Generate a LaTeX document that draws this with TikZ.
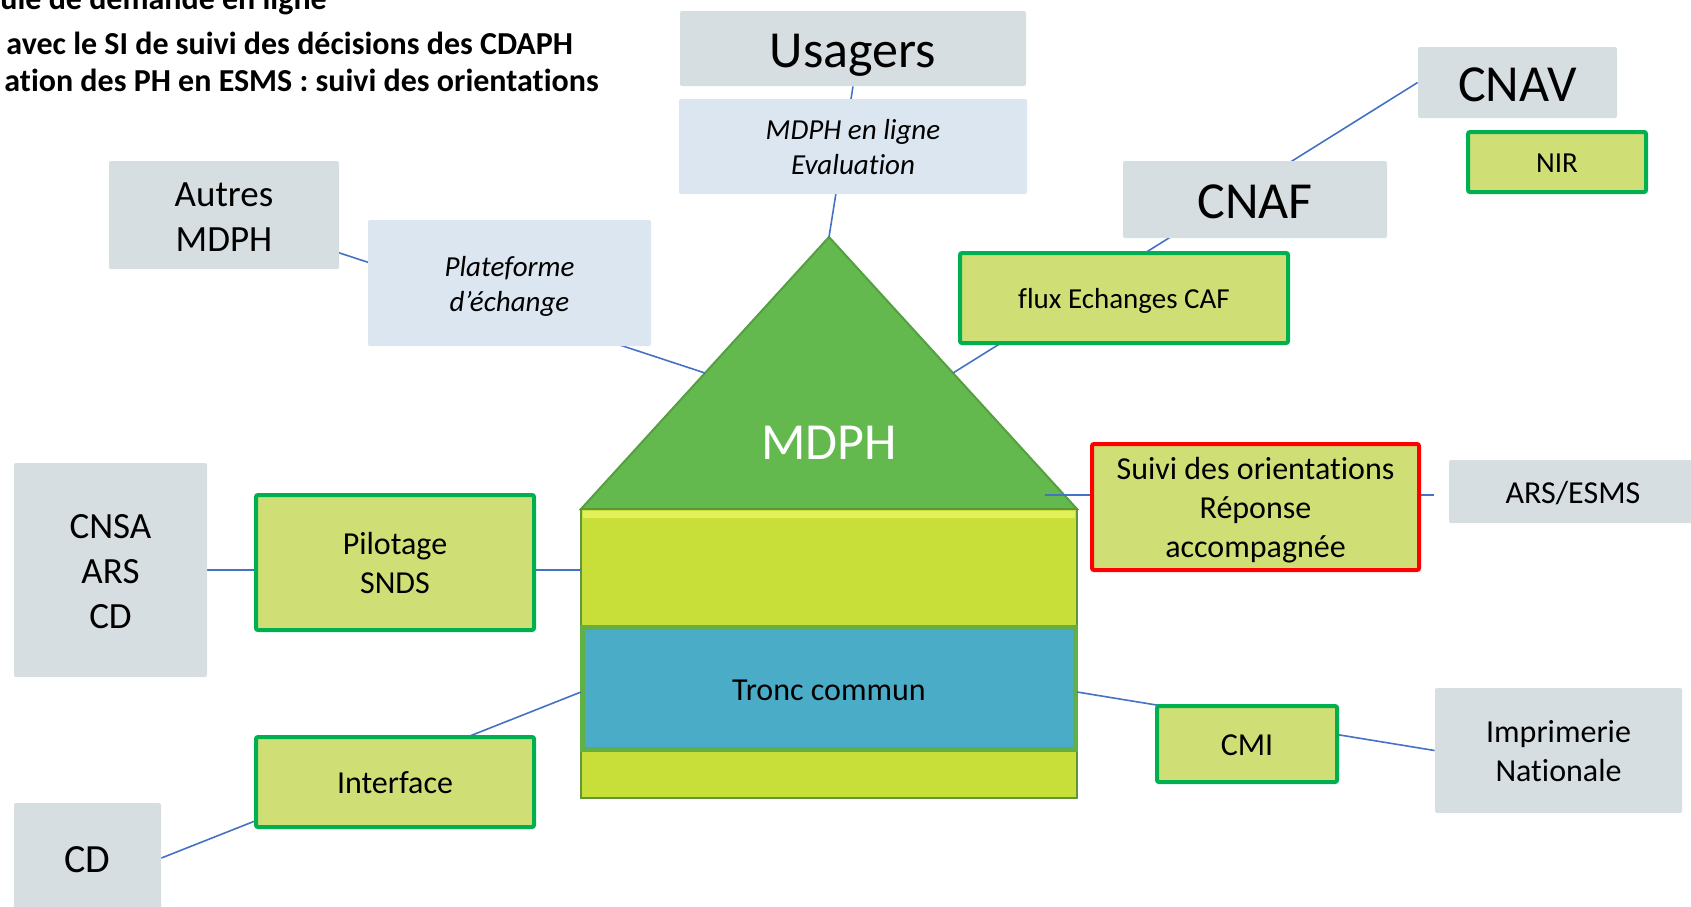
\documentclass[tikz,border=0pt]{standalone}
\usepackage{fontspec}
\setmainfont{Carlito}[Ligatures=NoCommon]
\usetikzlibrary{calc}
\definecolor{graybox}{RGB}{214,222,225}
\definecolor{bluebox}{RGB}{220,230,241}
\definecolor{limebox}{RGB}{208,223,117}
\definecolor{gborder}{RGB}{0,176,80}
\definecolor{rborder}{RGB}{255,0,0}
\definecolor{linkcol}{RGB}{68,114,196}
\definecolor{trifill}{RGB}{99,185,78}
\definecolor{triedge}{RGB}{84,160,64}
\definecolor{housefill}{RGB}{199,223,56}
\definecolor{househi}{RGB}{228,240,90}
\definecolor{houseedge}{RGB}{96,150,58}
\definecolor{troncfill}{RGB}{74,172,198}
\definecolor{troncedge}{RGB}{96,176,70}
\pgfdeclarelayer{bg}
\pgfdeclarelayer{mid}
\pgfsetlayers{bg,mid,main}
\tikzset{
  fa/.style={font=\fontsize{26}{31.7}\selectfont},
  fb/.style={font=\fontsize{18.5}{22.5}\selectfont},
  fc/.style={font=\fontsize{20}{24}\selectfont},
  fd/.style={font=\fontsize{16}{19.5}\selectfont},
  fe/.style={font=\fontsize{14.5}{17.6}\selectfont\itshape},
  ff/.style={font=\fontsize{14.5}{17.6}\selectfont},
  th/.style={text height=#1, text depth=0pt},
  sz/.style 2 args={minimum width=#1*0.5pt, minimum height=#2*0.5pt},
  basebx/.style={inner sep=0pt, align=center, text=black, rounded corners=1pt},
  graybx/.style={basebx, fill=graybox},
  bluebx/.style={basebx, fill=bluebox},
  limebx/.style={basebx, fill=limebox, draw=gborder, line width=2pt},
  redbx/.style={basebx, fill=limebox, draw=rborder, line width=2pt},
  linkln/.style={draw=linkcol, line width=0.8pt},
  toptxt/.style={inner sep=0pt, anchor=base west, font=\fontsize{16}{19.5}\selectfont\bfseries}
}
\begin{document}
\begin{tikzpicture}[x=0.5pt,y=-0.5pt]
\useasboundingbox (0,0) rectangle (1691,906);
\clip (0,0) rectangle (1691,906);

% ---------- house ----------
\begin{pgfonlayer}{bg}
\coordinate (apex) at (829,237);
\coordinate (tl) at (581,509);
\coordinate (tr) at (1077,509);
\coordinate (tml) at ($(tl)!0.5!(apex)$);
\coordinate (tmr) at ($(tr)!0.5!(apex)$);
\coordinate (hpl) at (581,570);
\coordinate (hil) at (581,692);
\coordinate (hir) at (1077,692);
\coordinate (suiviin) at (1045,495);
\coordinate (arsend) at (1434,495);
\filldraw[fill=trifill, draw=triedge, line width=1pt, line join=miter] (tl) -- (apex) -- (tr) -- cycle;
\node[white, font=\fontsize{26}{31.7}\selectfont, inner sep=0pt] (mdph) at (829,443) {MDPH};
\node[fill=housefill, draw=houseedge, line width=1.2pt, inner sep=0pt, sz={496}{289}] (house) at (829,653.5) {};
\fill[househi] (583,511) rectangle (1075,518);
\node[fill=troncfill, draw=troncedge, line width=2.6pt, inner sep=0pt, sz={493}{122}, fd, th=11.7pt] (tronc) at (829,688.5) {Tronc commun};
\end{pgfonlayer}

% ---------- boxes ----------
\node[graybx, fa, th=18.5pt, sz={346}{75}] (usagers) at (853,48.5) {Usagers};
\node[bluebx, fe, th=28.3pt, sz={348}{95}] (enligne) at (853,146.5) {MDPH en ligne\\Evaluation};
\node[graybx, fb, th=36.1pt, sz={230}{108}] (autres) at (224,215) {Autres\\MDPH};
\node[bluebx, fe, th=28.3pt, sz={283}{126}] (plat) at (509.5,283) {Plateforme\\d’échange};
\node[graybx, fa, th=18.5pt, sz={199}{71}] (cnav) at (1517.5,82.5) {CNAV};
\node[limebx, ff, th=10.6pt, sz={178}{60}] (nir) at (1557,162) {NIR};
\node[graybx, fa, th=18.5pt, sz={264}{77}] (cnaf) at (1255,199.5) {CNAF};
\node[limebx, ff, th=10.6pt, sz={328}{90}] (flux) at (1124,298) {flux Echanges CAF};
\node[redbx, fd, th=50.7pt, sz={327}{126}] (suivi) at (1255.5,507) {Suivi des orientations\\Réponse\\accompagnée};
\node[graybx, fd, th=11.7pt, sz={248}{63}] (ars) at (1573,491.5) {ARS/ESMS};
\node[graybx, fb, th=58.6pt, sz={193}{214}] (cnsa) at (110.5,570) {CNSA\\ARS\\CD};
\node[limebx, fd, th=31.2pt, sz={278}{135}] (pilot) at (395,562.5) {Pilotage\\SNDS};
\node[limebx, fd, th=11.7pt, sz={278}{90}] (interf) at (395,782) {Interface};
\node[graybx, fc, th=14.6pt, sz={147}{110}] (cd) at (87.5,858) {CD};
\node[limebx, fd, th=11.7pt, sz={180}{76}] (cmi) at (1247,744) {CMI};
\node[graybx, fd, th=31.2pt, sz={247}{125}] (imp) at (1558.5,750.5) {Imprimerie\\Nationale};

% ---------- connectors ----------
\begin{pgfonlayer}{mid}
\draw[linkln] (usagers.south) -- (apex);
\draw[linkln] (autres.center) -- (tml);
\draw[linkln] (cnav.west) -- (tmr);
\draw[linkln] (cnsa.east) -- (hpl);
\draw[linkln] (cd.east) -- (hil);
\draw[linkln] (hir) -- (imp.west);
\draw[linkln] (suiviin) -- (arsend);
\end{pgfonlayer}

% ---------- top-left text ----------
\node[toptxt] (t1) at (0,9) {uie de demande en ligne};
\node[toptxt] (t2) at (6,54) {avec le SI de suivi des décisions des CDAPH};
\node[toptxt] (t3) at (4,91) {ation des PH en ESMS : suivi des orientations};
\end{tikzpicture}
\end{document}
